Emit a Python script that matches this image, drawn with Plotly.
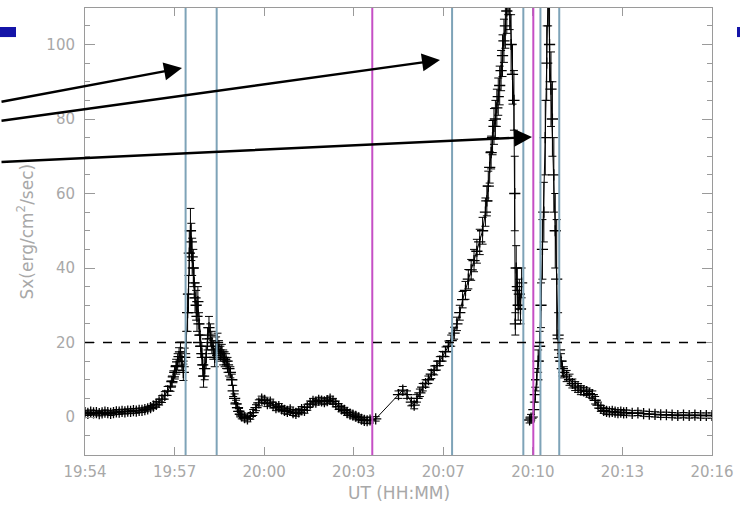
import plotly.graph_objects as go

# ---- data (time in minutes after 19:54 UT, soft X-ray flux) ----
ut_min = [
    # quiet baseline
    0.0, 0.1, 0.2, 0.3, 0.4, 0.5, 0.6, 0.7, 0.8, 0.9, 1.0, 1.1, 1.2, 1.3, 1.4,
    1.5, 1.6, 1.7, 1.8, 1.9, 2.0, 2.1, 2.2, 2.3, 2.4,
    # first rise
    2.5, 2.6, 2.7, 2.8, 2.9, 3.0, 3.05, 3.1, 3.15, 3.2, 3.25, 3.3, 3.35, 3.4, 3.45, 3.5,
    # first peak
    3.55, 3.6, 3.63, 3.66, 3.7, 3.73, 3.76, 3.8, 3.83, 3.86,
    3.9, 3.93, 3.96, 4.0, 4.03, 4.06, 4.1, 4.13, 4.16, 4.2,
    4.25, 4.3, 4.35, 4.4, 4.45, 4.5, 4.55, 4.6, 4.65, 4.7,
    4.75, 4.8, 4.85, 4.9, 4.95, 5.0, 5.05, 5.1, 5.15, 5.2,
    5.25, 5.3, 5.35, 5.4, 5.45, 5.5,
    # wiggles
    5.6, 5.7, 5.8, 5.9, 6.0, 6.1, 6.2, 6.3, 6.4, 6.5, 6.6, 6.7, 6.8, 6.9, 7.0,
    7.1, 7.2, 7.3, 7.4, 7.5, 7.6, 7.7, 7.8, 7.9, 8.0, 8.1, 8.2, 8.3, 8.4, 8.5,
    8.6, 8.7, 8.8, 8.9, 9.0, 9.1, 9.2, 9.3, 9.4, 9.5, 9.6, 9.7, 9.8, 9.9, 10.0,
    # sparse + main rise
    10.2, 11.0, 11.15, 11.3, 11.45, 11.55, 11.65, 11.75,
    11.85, 11.95, 12.05, 12.15, 12.25, 12.35, 12.45, 12.55, 12.65, 12.75,
    12.85, 12.95, 13.05, 13.15, 13.25, 13.35, 13.45, 13.55, 13.65, 13.75,
    13.85, 13.95, 14.05, 14.1, 14.15, 14.2, 14.25, 14.3, 14.35, 14.4,
    14.45, 14.5, 14.55, 14.6, 14.65, 14.7, 14.75, 14.8, 14.85,
    # main peak descent
    14.9, 14.95, 15.0, 15.05, 15.08, 15.1, 15.13, 15.17, 15.2, 15.24, 15.28, 15.32,
    # data gap
    15.45,
    # second spike and decay
    15.6, 15.65, 15.75, 15.8, 15.85, 15.9, 15.95, 16.0, 16.05, 16.1,
    16.15, 16.2, 16.25, 16.3, 16.35, 16.4, 16.45, 16.5, 16.55, 16.6,
    16.65, 16.7, 16.75, 16.8, 16.9, 17.0, 17.1, 17.2, 17.3, 17.4,
    17.5, 17.6, 17.7, 17.8, 17.9, 18.0, 18.1, 18.2, 18.3, 18.4,
    18.5, 18.6, 18.7, 18.8, 18.9, 19.0, 19.2, 19.4, 19.6, 19.8,
    20.0, 20.2, 20.4, 20.6, 20.8, 21.0, 21.2, 21.4, 21.6, 21.8, 22.0,
]

sx_flux = [
    1.2, 1.0, 1.3, 1.1, 1.2, 0.9, 1.1, 1.3, 1.2, 1.0, 1.2, 1.4, 1.3, 1.5, 1.4,
    1.6, 1.5, 1.7, 1.6, 1.8, 1.8, 2.0, 2.2, 2.5, 2.9,
    3.4, 4.0, 4.8, 5.8, 7.0, 8.3, 9.5, 10.8, 12.0, 13.5, 14.8, 16.2, 17.5, 15.0, 12.0, 16.0,
    20, 28, 33, 44, 50, 47, 43, 40, 36, 32,
    30, 27, 31, 25, 22, 19, 17, 14, 11, 13,
    16, 21, 24, 22, 20, 18, 16, 19, 20, 18,
    17, 17.5, 16, 15.5, 15, 14, 13, 12, 10, 7,
    5, 3.5, 2.5, 1.5, 0.8, 0.3,
    -0.2, -0.5, 0.2, 1.2, 2.5, 3.8, 4.8, 4.5, 3.6, 4.0, 3.2, 2.5, 2.8, 2.2, 1.8,
    1.5, 1.9, 1.2, 1.0, 1.4, 2.0, 1.8, 2.6, 3.5, 4.2, 4.0, 4.5, 4.3, 4.1, 4.4,
    4.8, 4.2, 3.5, 2.8, 2.2, 1.8, 1.2, 0.8, 0.5, 0.2, -0.2, -0.6, -0.9, -1.0, -0.8,
    -0.5, 6.0, 7.2, 6.0, 4.0, 3.2, 5.0, 6.5,
    8.0, 9.0, 10.0, 11.5, 12.5, 13.8, 15.0, 16.3, 17.5, 19.0,
    20.5, 22.5, 25, 28, 31.5, 34, 37, 39.5, 42, 44.5,
    47, 50, 55, 58, 62, 67, 71, 75, 78, 80,
    83, 86, 89, 93, 97, 101, 105, 109, 114,
    112, 100, 92, 85, 60, 25, 40, 35, 30, 33, 29, 36,
    None,
    -0.8, -0.3, 2, 6, 10, 15, 19, 30, 45, 55,
    75, 95, 115, 100, 88, 80, 65, 50, 37, 22,
    18, 15, 13, 12, 11, 10, 9, 8.3, 7.8, 7.2,
    7, 6.8, 6.3, 6, 4.5, 3.2, 2.3, 1.8, 1.5, 1.4,
    1.5, 1.3, 1.2, 1.3, 1.1, 1.2, 1.0, 1.1, 0.9, 0.8,
    0.7, 0.6, 0.6, 0.5, 0.4, 0.5, 0.4, 0.5, 0.4, 0.4, 0.4,
]

sx_err = (
    [0.6] * 25
    + [0.8, 0.8, 0.9, 1.0, 1.2, 1.4, 1.5, 1.6, 1.8, 2.0, 2.2, 2.4, 2.6, 2.5, 2.2, 2.5]
    + [3, 5, 5, 6, 6, 5, 5, 5, 4, 4,
       4, 4, 4, 3, 3, 3, 3, 3, 3, 3,
       3, 3, 3, 3, 3, 2.5, 2.5, 2.5, 2.5, 2.5,
       2, 2, 2, 2, 2, 2, 2, 1.5, 1.5, 1.5,
       1.2, 1, 1, 0.8, 0.8, 0.8]
    + [0.8] * 45
    + [0.6, 1.0, 1.0, 1.0, 1.0, 1.0, 1.0, 1.0,
       1.0, 1.0, 1.0, 1.2, 1.2, 1.2, 1.2, 1.3, 1.3, 1.4,
       1.5, 1.6, 1.8, 2.0, 2.2, 2.4, 2.6, 2.8, 3.0, 3.2,
       3.4, 3.6, 3.8, 4.0, 4.0, 4.2, 4.4, 4.6, 4.8, 5.0,
       5.0, 5.0, 5.2, 5.4, 5.6, 5.8, 6.0, 6.0, 6.0]
    + [8, 8, 8, 8, 10, 3, 6, 5, 4, 4, 4, 4]
    + [0]
    + [0.8, 1, 2, 2, 3, 3, 4, 6, 8, 8,
       10, 10, 10, 10, 10, 10, 10, 10, 16, 6,
       3, 2, 2, 1.5, 1.5, 1.5, 1.2, 1.2, 1.2, 1.2,
       1, 1, 1, 1, 1, 0.8, 0.8, 0.8, 0.8, 0.8,
       0.7, 0.7, 0.7, 0.7, 0.7, 0.7, 0.7, 0.7, 0.7, 0.7,
       0.7, 0.7, 0.7, 0.7, 0.7, 0.7, 0.7, 0.7, 0.7, 0.7, 0.7]
)

x_tick_labels = ["19:54", "19:57", "20:00", "20:03", "20:07", "20:10", "20:13", "20:16"]
x_span_min = 22.0

blue_lines_min = [3.53, 4.62, 12.88, 15.38, 15.98, 16.64]
magenta_lines_min = [10.08, 15.73]
threshold = 20

n = min(len(ut_min), len(sx_flux), len(sx_err))
ut_min, sx_flux, sx_err = ut_min[:n], sx_flux[:n], sx_err[:n]

GRAY = "#a8a8a8"
AXIS = "#9a9a9a"
FONT = "DejaVu Sans"

fig = go.Figure()
fig.add_trace(go.Scatter(
    x=ut_min, y=sx_flux, mode="lines+markers",
    line=dict(color="black", width=1),
    marker=dict(symbol="cross-thin", size=8, color="black",
                line=dict(color="black", width=1.3)),
    error_y=dict(type="data", array=sx_err, visible=True,
                 color="black", thickness=1, width=4),
    connectgaps=False, showlegend=False, hoverinfo="skip",
))

shapes = []
for t in blue_lines_min:
    shapes.append(dict(type="line", xref="x", yref="paper", x0=t, x1=t, y0=0, y1=1,
                       line=dict(color="#7ea3b8", width=2)))
for t in magenta_lines_min:
    shapes.append(dict(type="line", xref="x", yref="paper", x0=t, x1=t, y0=0, y1=1,
                       line=dict(color="#c54fc5", width=2)))
shapes.append(dict(type="line", xref="x", yref="y", x0=0, x1=x_span_min,
                   y0=threshold, y1=threshold,
                   line=dict(color="black", width=1.4, dash="dash")))
# slide decoration rectangles
shapes.append(dict(type="rect", xref="paper", yref="paper",
                   x0=-0.1356, x1=-0.110, y0=0.935, y1=0.9575,
                   fillcolor="#1414a8", line=dict(width=0)))
shapes.append(dict(type="rect", xref="paper", yref="paper",
                   x0=1.0399, x1=1.06, y0=0.935, y1=0.9575,
                   fillcolor="#1414a8", line=dict(width=0)))

annotations = [
    dict(text="Sx(erg/cm<sup>2</sup>/sec)", xref="paper", yref="paper",
         x=-0.0957, y=0.5, textangle=-90, showarrow=False,
         xanchor="center", yanchor="middle", font=dict(family=FONT, size=17, color=GRAY)),
    dict(text="UT (HH:MM)", xref="paper", yref="paper", x=0.5, y=-0.085,
         showarrow=False, xanchor="center", yanchor="middle",
         font=dict(family=FONT, size=17, color=GRAY)),
]
# black arrows (tips in paper coords, tails as pixel offsets)
for tip_x, tip_y, ax, ay in [(0.1547, 0.8658, -192, 34),
                             (0.5662, 0.8837, -450, 61),
                             (0.7129, 0.7114, -542, 25)]:
    annotations.append(dict(text="", xref="paper", yref="paper", x=tip_x, y=tip_y,
                            ax=ax, ay=ay, showarrow=True, arrowhead=2, arrowsize=1.5,
                            arrowwidth=2.4, arrowcolor="black", standoff=0))

fig.update_layout(
    width=740, height=505,
    margin=dict(l=85, r=28, t=8, b=50),
    paper_bgcolor="white", plot_bgcolor="white",
    shapes=shapes, annotations=annotations,
    xaxis=dict(range=[0, x_span_min],
               tickvals=[i * x_span_min / 7 for i in range(8)],
               ticktext=x_tick_labels, automargin=False,
               ticks="inside", ticklen=8, tickcolor=AXIS, tickwidth=1,
               showline=True, linecolor=AXIS, linewidth=1, mirror="ticks",
               showgrid=False, zeroline=False, ticklabelstandoff=3,
               tickfont=dict(family=FONT, size=15, color=GRAY)),
    yaxis=dict(range=[-10.2, 109.8], tick0=0, dtick=20, automargin=False,
               ticks="inside", ticklen=10, tickcolor=AXIS, tickwidth=1,
               minor=dict(dtick=5, tick0=0, ticks="inside", ticklen=5, tickcolor=AXIS),
               showline=True, linecolor=AXIS, linewidth=1, mirror="ticks",
               showgrid=False, zeroline=False, ticklabelstandoff=6,
               tickfont=dict(family=FONT, size=15, color=GRAY)),
)

fig.write_html("out.html", config={"displayModeBar": False},
               post_script="document.body.style.margin='0';document.body.style.overflow='hidden';")
